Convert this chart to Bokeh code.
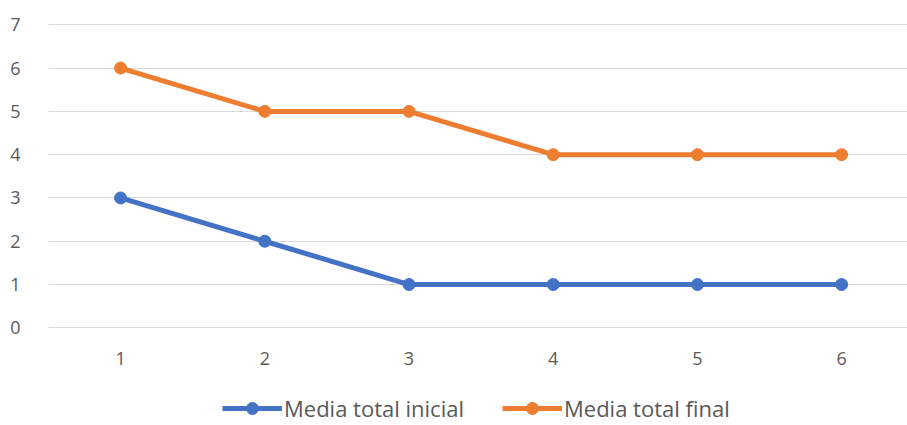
from bokeh.plotting import figure
from bokeh.models import Range1d, FixedTicker, Legend, LegendItem, ColumnDataSource
from bokeh.embed import file_html
from bokeh.resources import INLINE

categories = [1, 2, 3, 4, 5, 6]
media_inicial = [3, 2, 1, 1, 1, 1]
media_final = [6, 5, 5, 4, 4, 4]
y_ticks = [0, 1, 2, 3, 4, 5, 6, 7]

FONT = "Open Sans"
TXT = "#595959"
BLUE = "#4472C4"
ORANGE = "#ED7D31"

# frame extends below the value axis so the legend can sit inside it
p = figure(frame_width=859, frame_height=400, output_backend="svg", toolbar_location=None,
           x_range=Range1d(0.5, 6.457), y_range=Range1d(-2.21, 7.03),
           min_border_left=48, min_border_right=0, min_border_top=23,
           min_border_bottom=0)
p.outline_line_color = None
p.background_fill_color = "white"
p.border_fill_color = "white"

src = ColumnDataSource(dict(x=categories, a=media_inicial, b=media_final))
l1 = p.line("x", "a", source=src, line_color=BLUE, line_width=5)
m1 = p.scatter("x", "a", source=src, size=12, fill_color=BLUE, line_color=BLUE)
l2 = p.line("x", "b", source=src, line_color=ORANGE, line_width=5)
m2 = p.scatter("x", "b", source=src, size=12, fill_color=ORANGE, line_color=ORANGE)

p.xaxis.ticker = FixedTicker(ticks=categories)
p.yaxis.ticker = FixedTicker(ticks=y_ticks)
for ax in (p.xaxis[0], p.yaxis[0]):
    ax.axis_line_color = None
    ax.major_tick_line_color = None
    ax.minor_tick_line_color = None
    ax.major_label_text_font = FONT
    ax.major_label_text_font_size = "18px"
    ax.major_label_text_color = TXT
p.yaxis.major_label_standoff = 22
p.xaxis.fixed_location = 0
p.xaxis.major_label_standoff = 18

p.xgrid.grid_line_color = None
p.ygrid.grid_line_color = "#d9d9d9"
p.ygrid.grid_line_width = 1

legend = Legend(items=[LegendItem(label="Media total inicial", renderers=[l1, m1]),
                       LegendItem(label="Media total final", renderers=[l2, m2])],
                orientation="horizontal", location=(174, 0),
                label_text_font=FONT, label_text_font_size="22px", label_text_color=TXT,
                glyph_width=60, glyph_height=30, label_standoff=2, spacing=38,
                border_line_color=None, background_fill_alpha=0,
                margin=0, padding=0)
p.add_layout(legend, "center")

open("out.html", "w").write(file_html(p, INLINE))
